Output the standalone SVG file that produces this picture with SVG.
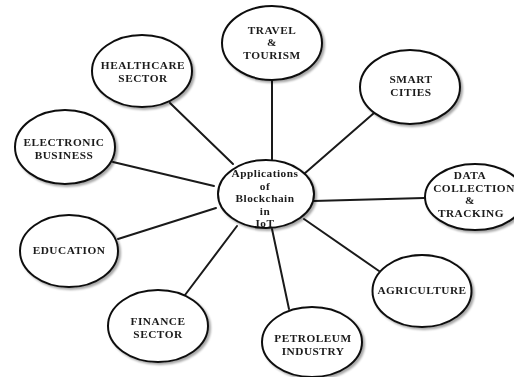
<svg xmlns="http://www.w3.org/2000/svg" width="514" height="377" viewBox="0 0 514 377">
  <defs>
    <filter id="soft" x="-10%" y="-10%" width="125%" height="125%">
      <feGaussianBlur in="SourceAlpha" stdDeviation="1.2"/>
      <feOffset dx="1.5" dy="1.5" result="b"/>
      <feComponentTransfer><feFuncA type="linear" slope="0.35"/></feComponentTransfer>
      <feMerge><feMergeNode/><feMergeNode in="SourceGraphic"/></feMerge>
    </filter>
  </defs>
  <style>
    .node ellipse { fill: #ffffff; stroke: #111111; stroke-width: 2; }
    .node text { font-family: "Liberation Serif", "Times New Roman", serif; font-weight: bold; font-size: 11.3px; letter-spacing: 0.5px; fill: #1a1a1a; text-anchor: middle; }
    #connectors line { stroke: #1a1a1a; stroke-width: 2; stroke-linecap: round; }
  </style>
  <rect width="514" height="377" fill="#ffffff"/>

  <g id="connectors">
    <line x1="272" y1="80" x2="272" y2="161"/>
    <line x1="374" y1="113" x2="304" y2="174"/>
    <line x1="170" y1="103" x2="233" y2="164"/>
    <line x1="113" y1="162" x2="214" y2="186"/>
    <line x1="118" y1="239" x2="216" y2="208"/>
    <line x1="185" y1="295" x2="237" y2="226"/>
    <line x1="289" y1="309" x2="272" y2="229"/>
    <line x1="304" y1="219" x2="379" y2="271"/>
    <line x1="313" y1="201" x2="424" y2="198"/>
  </g>

  <g id="center" class="node" filter="url(#soft)">
    <ellipse cx="266" cy="194" rx="48" ry="34"/>
    <text x="265" y="177">Applications</text>
    <text x="265" y="189.5">of</text>
    <text x="265" y="202">Blockchain</text>
    <text x="265" y="214.5">in</text>
    <text x="265" y="227">IoT</text>
  </g>

  <g id="travel" class="node" filter="url(#soft)">
    <ellipse cx="272" cy="43" rx="50" ry="37"/>
    <text x="272" y="33.5">TRAVEL</text>
    <text x="272" y="46">&amp;</text>
    <text x="272" y="58.5">TOURISM</text>
  </g>

  <g id="smart-cities" class="node" filter="url(#soft)">
    <ellipse cx="410" cy="87" rx="50" ry="37"/>
    <text x="411" y="83">SMART</text>
    <text x="411" y="95.5">CITIES</text>
  </g>

  <g id="healthcare" class="node" filter="url(#soft)">
    <ellipse cx="142" cy="71" rx="50" ry="36"/>
    <text x="143" y="69">HEALTHCARE</text>
    <text x="143" y="81.5">SECTOR</text>
  </g>

  <g id="e-business" class="node" filter="url(#soft)">
    <ellipse cx="65" cy="147" rx="50" ry="37"/>
    <text x="64" y="146">ELECTRONIC</text>
    <text x="64" y="158.5">BUSINESS</text>
  </g>

  <g id="data-collection" class="node" filter="url(#soft)">
    <ellipse cx="475" cy="197" rx="50" ry="33"/>
    <text x="470" y="179">DATA</text>
    <text x="474" y="191.5">COLLECTION</text>
    <text x="470" y="204">&amp;</text>
    <text x="471" y="216.5">TRACKING</text>
  </g>

  <g id="education" class="node" filter="url(#soft)">
    <ellipse cx="69" cy="251" rx="49" ry="36"/>
    <text x="69" y="254">EDUCATION</text>
  </g>

  <g id="finance" class="node" filter="url(#soft)">
    <ellipse cx="158" cy="326" rx="50" ry="36"/>
    <text x="158" y="325">FINANCE</text>
    <text x="158" y="337.5">SECTOR</text>
  </g>

  <g id="petroleum" class="node" filter="url(#soft)">
    <ellipse cx="312" cy="342" rx="50" ry="35"/>
    <text x="313" y="342">PETROLEUM</text>
    <text x="313" y="354.5">INDUSTRY</text>
  </g>

  <g id="agriculture" class="node" filter="url(#soft)">
    <ellipse cx="422" cy="291" rx="49.5" ry="36"/>
    <text x="422" y="294">AGRICULTURE</text>
  </g>
</svg>
